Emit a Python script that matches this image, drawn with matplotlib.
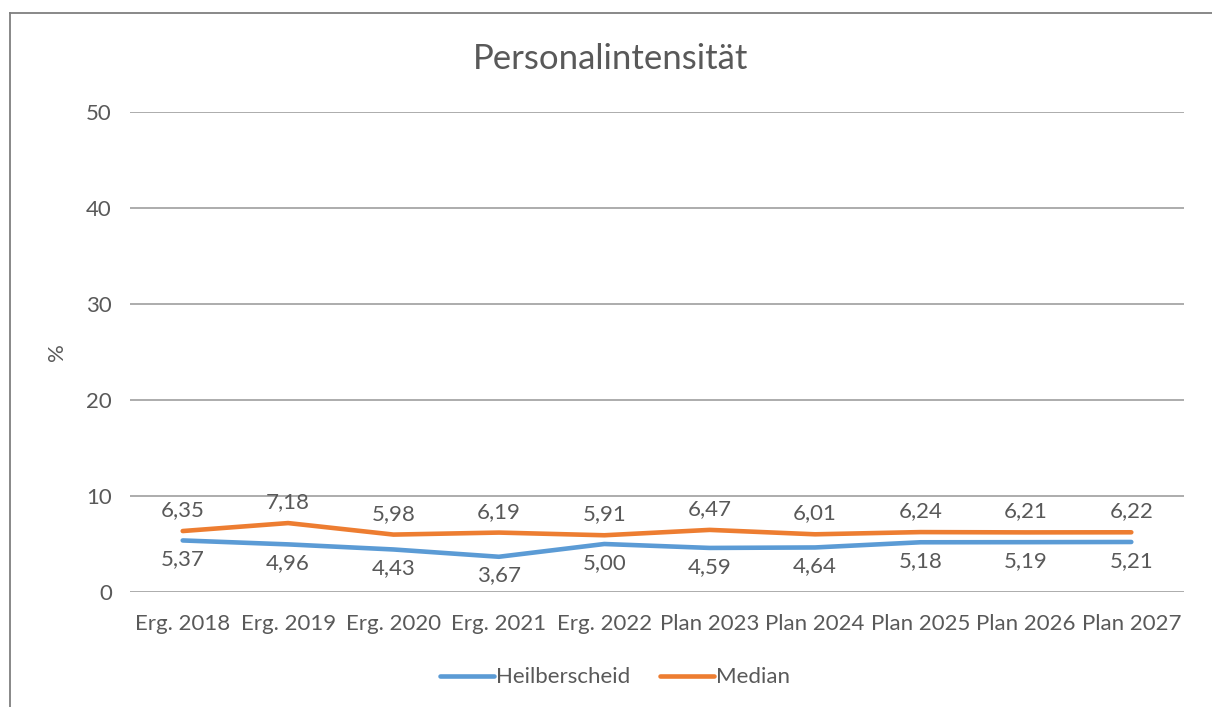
import matplotlib
matplotlib.use("Agg")
import matplotlib.pyplot as plt
from matplotlib.lines import Line2D

plt.rcParams['font.family'] = ['Lato', 'DejaVu Sans']

categories = ["Erg. 2018", "Erg. 2019", "Erg. 2020", "Erg. 2021", "Erg. 2022",
              "Plan 2023", "Plan 2024", "Plan 2025", "Plan 2026", "Plan 2027"]
heilberscheid = [5.37, 4.96, 4.43, 3.67, 5.00, 4.59, 4.64, 5.18, 5.19, 5.21]
median = [6.35, 7.18, 5.98, 6.19, 5.91, 6.47, 6.01, 6.24, 6.21, 6.22]
yticks = [0, 10, 20, 30, 40, 50]

W, H = 1212, 707
fig = plt.figure(figsize=(W / 100, H / 100), dpi=100)
ax = fig.add_axes([130 / W, (H - 592) / H, (1184 - 130) / W, (592 - 112) / H])

txt = "#595959"
blue = "#5B9BD5"
orange = "#ED7D31"
fs = 16

x = list(range(len(categories)))
ax.plot(x, heilberscheid, color=blue, lw=3.3, solid_capstyle='round', label="Heilberscheid", zorder=3)
ax.plot(x, median, color=orange, lw=3.3, solid_capstyle='round', label="Median", zorder=3)

def fmt(v):
    return f"{v:.2f}".replace(".", ",")

for xi, v in zip(x, median):
    ax.annotate(fmt(v), (xi, v), xytext=(0, 15), textcoords='offset points',
                ha='center', va='center', fontsize=fs, color=txt)
for xi, v in zip(x, heilberscheid):
    ax.annotate(fmt(v), (xi, v), xytext=(0, -13.5), textcoords='offset points',
                ha='center', va='center', fontsize=fs, color=txt)

ax.set_xlim(-0.5, len(categories) - 0.5)
ax.set_ylim(0, 50)
ax.set_yticks(yticks)
ax.set_yticklabels([str(t) for t in yticks])
ax.set_xticks(x)
ax.set_xticklabels(categories)
ax.tick_params(axis='both', length=0, labelsize=fs, colors=txt)
ax.tick_params(axis='y', pad=13)
ax.tick_params(axis='x', pad=16)
ax.grid(axis='y', color='#a6a6a6', lw=1.3)
ax.set_axisbelow(True)
for s in ax.spines.values():
    s.set_visible(False)

ax.set_ylabel("%", fontsize=fs, color=txt, labelpad=14)
fig.text(611 / W, 1 - 59 / H, "Personalintensität", fontsize=25, color=txt,
         ha='center', va='center')

leg = ax.legend(loc='center', bbox_to_anchor=((615 - 130) / 1054, -0.178), ncol=2, frameon=False,
                fontsize=fs, handlelength=2.45, handletextpad=0.1, columnspacing=1.3,
                labelcolor=txt)

# outer chart border (cropped)
fig.add_artist(Line2D([10 / W, 10 / W], [0, (H - 13) / H], color='#7f7f7f', lw=1.3))
fig.add_artist(Line2D([10 / W, 1], [(H - 13) / H, (H - 13) / H], color='#7f7f7f', lw=1.3))

fig.savefig("out.png", dpi=100)
